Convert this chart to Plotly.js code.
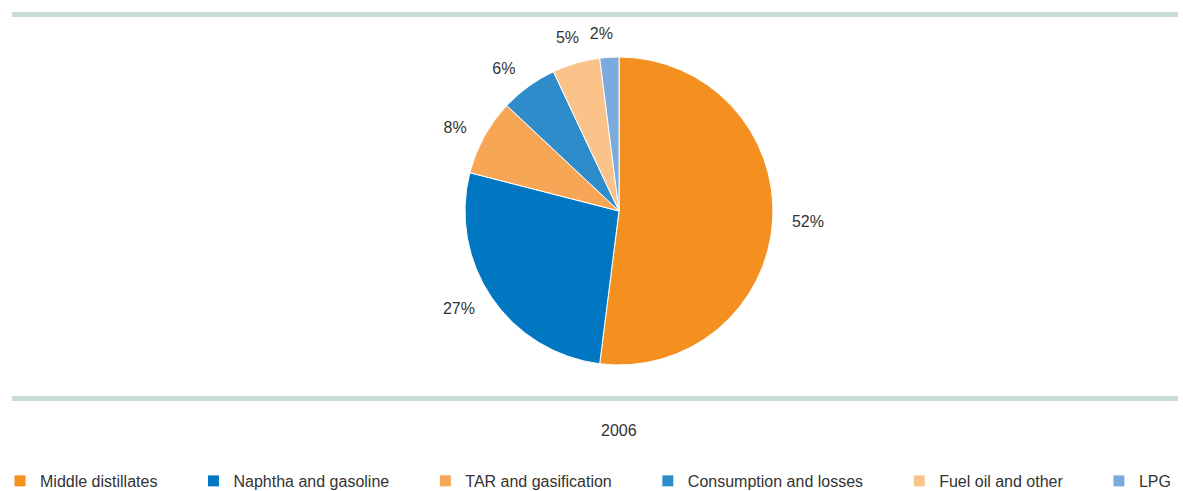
<!DOCTYPE html>
<html>
<head>
<meta charset="utf-8">
<script src="https://cdn.plot.ly/plotly-3.0.1.min.js"></script>
<style>html,body{margin:0;padding:0;background:#fff;}#chart{width:1183px;height:491px;}</style>
</head>
<body>
<div id="chart"></div>
<script>
const categories = ["Middle distillates", "Naphtha and gasoline", "TAR and gasification", "Consumption and losses", "Fuel oil and other", "LPG"];
const shares = [52, 27, 8, 6, 5, 2];
const sliceColors = ["#f39020", "#0077c0", "#f7a655", "#2f8ccb", "#fbc38a", "#7aabdc"];
const yearLabel = "2006";

const W = 1183, H = 491;
const py = v => 1 - v / H;
const px = v => v / W;
const FONT = "Liberation Sans, Arial, Helvetica, sans-serif";
const TXT = "#333333";

// legend spacing pad (visual only)
const pad = "\u00a0".repeat(7);
const legendLabels = categories.map((c, i) => i < categories.length - 1 ? c + pad : c);

const cx = 619, cy = 211, R = 154, RT = 169;
const dom = r => ({ x: [px(cx - r), px(cx + r)], y: [py(cy + r), py(cy - r)] });

const mainPie = {
  type: "pie",
  labels: legendLabels,
  values: shares,
  sort: false,
  direction: "clockwise",
  rotation: 0,
  marker: { colors: sliceColors, line: { color: "#ffffff", width: 1 } },
  textinfo: "none",
  hoverinfo: "skip",
  domain: dom(R),
  showlegend: true
};

// transparent label carriers (percent labels placed outside the slices)
function textPie(show, rot) {
  return {
    type: "pie",
    labels: legendLabels,
    values: shares,
    sort: false,
    direction: "clockwise",
    rotation: rot,
    marker: { colors: shares.map(() => "rgba(0,0,0,0)"), line: { width: 0 } },
    texttemplate: shares.map((v, i) => show(i) ? v + "%" : ""),
    textposition: "outside",
    outsidetextfont: { family: FONT, size: 16, color: TXT },
    hoverinfo: "skip",
    domain: dom(RT),
    showlegend: false
  };
}
const n = shares.length;
const labelsA = textPie(i => i < n - 2, 0);
const labelsC = textPie(i => i === n - 2, 4);
const labelsB = textPie(i => i === n - 1, 3);

const lineColor = "#c9ddd3";
const layout = {
  width: W, height: H,
  margin: { l: 0, r: 0, t: 0, b: 0, pad: 0, autoexpand: false },
  paper_bgcolor: "#ffffff",
  font: { family: FONT, size: 16, color: TXT },
  showlegend: true,
  legend: {
    orientation: "h",
    x: px(0), xanchor: "left",
    y: py(464), yanchor: "top",
    font: { family: FONT, size: 16, color: TXT },
    traceorder: "normal"
  },
  shapes: [
    { type: "line", xref: "paper", yref: "paper", x0: px(12), x1: px(1178), y0: py(14.5), y1: py(14.5), line: { color: lineColor, width: 5 } },
    { type: "line", xref: "paper", yref: "paper", x0: px(12), x1: px(1178), y0: py(398.5), y1: py(398.5), line: { color: lineColor, width: 5 } }
  ],
  annotations: [
    { text: yearLabel, xref: "paper", yref: "paper", x: px(619), y: py(430), xanchor: "center", yanchor: "middle", showarrow: false, font: { family: FONT, size: 16, color: TXT } }
  ]
};

Plotly.newPlot("chart", [mainPie, labelsA, labelsC, labelsB], layout, { staticPlot: true, displayModeBar: false });
</script>
</body>
</html>
